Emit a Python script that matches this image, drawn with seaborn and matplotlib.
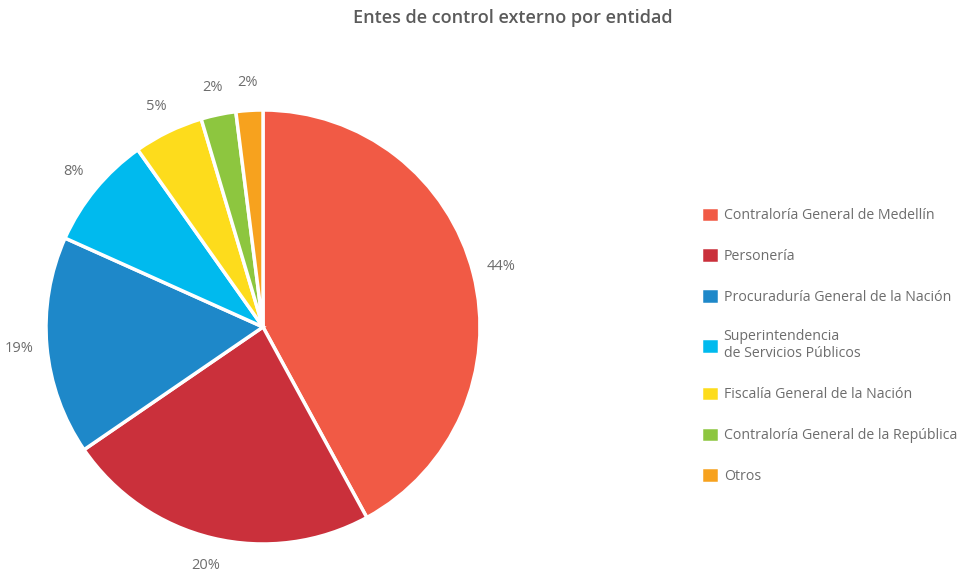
import matplotlib
matplotlib.use("Agg")
import matplotlib.pyplot as plt
import seaborn as sns

# data
entidades = [
    "Contraloría General de Medellín",
    "Personería",
    "Procuraduría General de la Nación",
    "Superintendencia\nde Servicios Públicos",
    "Fiscalía General de la Nación",
    "Contraloría General de la República",
    "Otros",
]
valores = [42.1, 23.4, 16.3, 8.5, 5.2, 2.6, 2.0]
etiquetas = ["44%", "20%", "19%", "8%", "5%", "2%", "2%"]
colores = ["#F15A45", "#CA303B", "#1E88C9", "#00BAEE", "#FDDC1C", "#8DC63F", "#F7A21E"]

sns.set_theme(style="white")
plt.rcParams["font.family"] = ["Open Sans", "DejaVu Sans"]

fig = plt.figure(figsize=(9.64, 5.72), dpi=100)
fig.patch.set_facecolor("white")

ax = fig.add_axes([46 / 964, 28 / 572, 434 / 964, 434 / 572])
wedges, texts = ax.pie(
    valores,
    labels=etiquetas,
    colors=colores,
    startangle=90,
    counterclock=False,
    labeldistance=1.13,
    wedgeprops=dict(edgecolor="white", linewidth=2.5),
    textprops=dict(color="#6d6d6d", fontsize=10.5),
)
for t in texts:
    t.set_horizontalalignment("center")
    t.set_verticalalignment("center")
ax.set_xlim(-1, 1)
ax.set_ylim(-1, 1)
ax.axis("off")

fig.text(0.532, 0.968, "Entes de control externo por entidad", ha="center", va="center",
         fontsize=13, fontweight="semibold", color="#5b5b5b")

leg = fig.legend(wedges, entidades, loc="upper left", bbox_to_anchor=(0.714, 0.661),
                 frameon=False, handlelength=1.3, handleheight=1.3, handletextpad=0.3,
                 labelspacing=1.72, fontsize=10.2)
for t in leg.get_texts():
    t.set_color("#6d6d6d")

fig.savefig("out.png", dpi=100, facecolor="white")
